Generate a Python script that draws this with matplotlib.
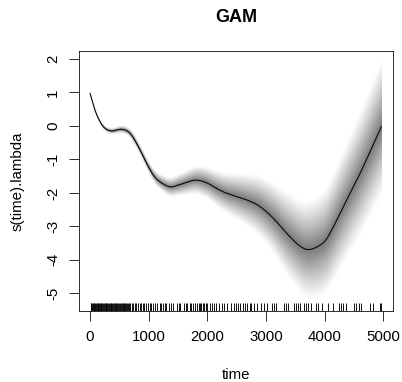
import numpy as np
import matplotlib
matplotlib.use("Agg")
import matplotlib.pyplot as plt

plt.rcParams['font.family'] = ['Liberation Sans', 'DejaVu Sans']
plt.rcParams['axes.unicode_minus'] = False

# smooth estimate s(time).lambda
time_pts = [0, 85, 170, 256, 369, 540, 682, 824, 966, 1080, 1193, 1364, 1534, 1790,
            1989, 2159, 2330, 2671, 2898, 3125, 3352, 3580, 3750, 3977, 4119, 4261,
            4432, 4602, 4773, 4966]
fit = [0.97, 0.47, 0.13, -0.07, -0.15, -0.10, -0.22, -0.62, -1.12, -1.47, -1.67, -1.82,
       -1.75, -1.62, -1.70, -1.87, -2.01, -2.21, -2.41, -2.76, -3.21, -3.59, -3.69,
       -3.49, -3.11, -2.61, -2.01, -1.42, -0.77, -0.02]
# outer half-width of the shaded uncertainty band
band_time = [0, 256, 500, 700, 1000, 1200, 1400, 1800, 2000, 2300, 2700, 3100, 3400,
             3750, 4000, 4300, 4600, 4966]
band_half = [0.06, 0.08, 0.11, 0.14, 0.18, 0.24, 0.30, 0.42, 0.48, 0.60, 0.80, 1.05,
             1.30, 1.50, 1.60, 1.72, 1.88, 2.05]
# rug of observed times
rug_times = [10, 25, 38, 50, 62, 75, 90, 102, 115, 130, 142, 155, 170, 183, 196, 210, 224,
             238, 250, 265, 280, 293, 305, 320, 335, 350, 362, 378, 392, 405, 420, 436, 450,
             465, 480, 495, 510, 525, 540, 556, 572, 588, 603, 620, 636, 652, 668,
             690, 712, 740, 765, 790, 815, 845, 870, 900, 925, 958, 985, 1015, 1045, 1080,
             1110, 1150, 1185, 1210,
             1240, 1275, 1300, 1340, 1380, 1420, 1480, 1510, 1540, 1600, 1630, 1660, 1700,
             1730, 1760, 1790, 1820, 1850, 1880, 1900, 1930, 1950, 1980, 2000,
             2040, 2080, 2110, 2150, 2200, 2250, 2290, 2330, 2400, 2450, 2490, 2530, 2560,
             2600, 2640, 2680, 2720, 2750, 2800, 2850, 2920, 2960,
             3020, 3100, 3140, 3170, 3300, 3340, 3380, 3470, 3510, 3550, 3580, 3650, 3690,
             3720, 3760, 3850, 3880, 3960,
             4050, 4150, 4240, 4280, 4320, 4360, 4500, 4540, 4580, 4620, 4780, 4820, 4950,
             4966]
x_ticks = [0, 1000, 2000, 3000, 4000, 5000]
y_ticks = [-5, -4, -3, -2, -1, 0, 1, 2]


def catmull_rom(xs, ys, n=12):
    xs = np.asarray(xs, float)
    ys = np.asarray(ys, float)
    P = np.column_stack([xs, ys])
    P = np.vstack([2 * P[0] - P[1], P, 2 * P[-1] - P[-2]])
    out = []
    t = np.linspace(0, 1, n, endpoint=False)[:, None]
    for i in range(1, len(P) - 2):
        p0, p1, p2, p3 = P[i - 1], P[i], P[i + 1], P[i + 2]
        seg = 0.5 * ((2 * p1) + (-p0 + p2) * t + (2 * p0 - 5 * p1 + 4 * p2 - p3) * t ** 2
                     + (-p0 + 3 * p1 - 3 * p2 + p3) * t ** 3)
        out.append(seg)
    out.append(P[-2][None, :])
    out = np.vstack(out)
    return out[:, 0], out[:, 1]


W, H, DPI = 402, 382, 72
fig = plt.figure(figsize=(W / DPI, H / DPI), dpi=DPI)
ax = fig.add_axes([79 / W, 1 - 311 / H, (393 - 79) / W, (311 - 51) / H])

xlim = (-187.5, 5165)
ylim = (-5.53, 2.24)

sx, sy = catmull_rom(time_pts, fit)

# gradient band as an image in data coordinates
gx = np.linspace(band_time[0], band_time[-1], 600)
gy = np.linspace(ylim[0], ylim[1], 800)
mu = np.interp(gx, sx, sy)
hw = np.interp(gx, band_time, band_half)
Z = np.abs(gy[:, None] - mu[None, :]) / hw[None, :]
shade = np.clip(1 - Z, 0, 1) ** 1.15
gray = 1 - 0.52 * shade
rgba = np.dstack([gray, gray, gray, np.ones_like(gray)])
ax.imshow(rgba, extent=(gx[0], gx[-1], gy[0], gy[-1]), origin='lower',
          aspect='auto', interpolation='bilinear', zorder=1)

ax.plot(sx, sy, color='black', lw=1.0, zorder=3)

rug_len = 0.03 * (ylim[1] - ylim[0])
ax.vlines(rug_times, ylim[0], ylim[0] + rug_len, color='black', lw=0.9, zorder=4)

ax.set_xlim(xlim)
ax.set_ylim(ylim)
ax.set_xticks(x_ticks)
ax.set_yticks(y_ticks)
ax.set_xticklabels([str(v) for v in x_ticks])
ax.set_yticklabels([str(v) for v in y_ticks], rotation=90, va='center')
ax.tick_params(direction='out', length=10, width=0.8, labelsize=15, color='black')
ax.tick_params(axis='x', pad=9)
ax.tick_params(axis='y', pad=9)
for s in ax.spines.values():
    s.set_linewidth(0.8)

ax.set_xlabel('time', fontsize=15, labelpad=24)
ax.set_ylabel('s(time).lambda', fontsize=15, labelpad=21)
ax.set_title('GAM', fontsize=18, fontweight='bold', pad=29)

fig.savefig('out.png', dpi=DPI)
